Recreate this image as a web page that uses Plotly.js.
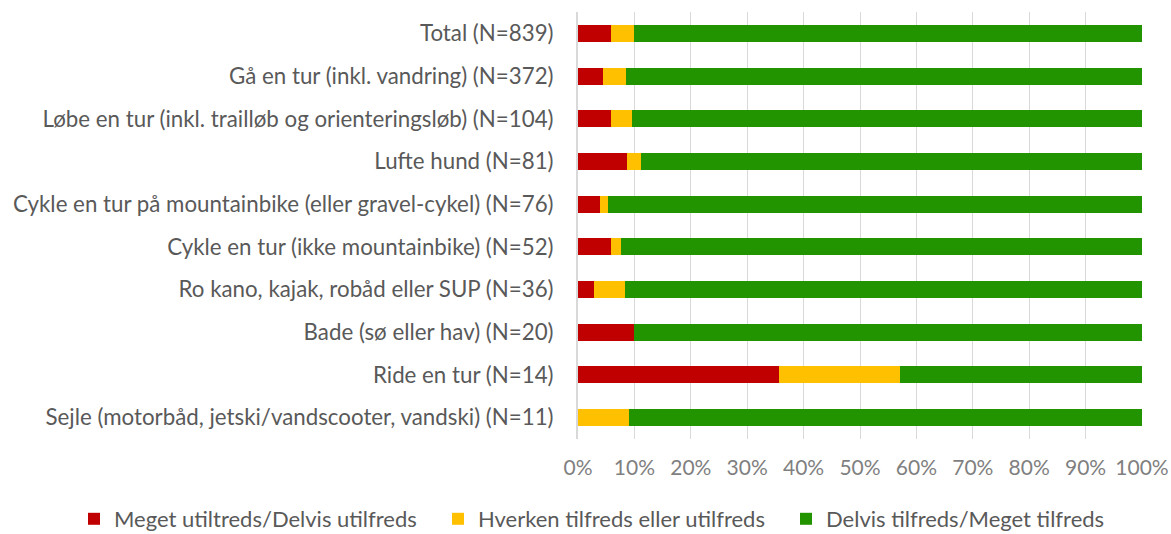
<!DOCTYPE html>
<html><head><meta charset="utf-8">
<script src="https://cdn.plot.ly/plotly-3.0.1.min.js"></script>
<style>body{margin:0;background:#fff}#chart{width:1171px;height:534px}</style>
</head><body><div id="chart"></div>
<script>
const categories = [
  "Total (N=839)",
  "Gå en tur (inkl. vandring) (N=372)",
  "Løbe en tur (inkl. trailløb og orienteringsløb) (N=104)",
  "Lufte hund (N=81)",
  "Cykle en tur på mountainbike (eller gravel-cykel) (N=76)",
  "Cykle en tur (ikke mountainbike) (N=52)",
  "Ro kano, kajak, robåd eller SUP (N=36)",
  "Bade (sø eller hav) (N=20)",
  "Ride en tur (N=14)",
  "Sejle (motorbåd, jetski/vandscooter, vandski) (N=11)"
];
const seriesNames = ["Meget utiltreds/Delvis utilfreds", "Hverken tilfreds eller utilfreds", "Delvis tilfreds/Meget tilfreds"];
const utilfreds = [5.8, 4.4, 5.77, 8.64, 3.95, 5.77, 2.78, 10.0, 35.71, 0];
const hverken   = [4.2, 4.1, 3.85, 2.47, 1.32, 1.92, 5.56, 0, 21.43, 9.09];
const tilfreds  = [90.0, 91.5, 90.38, 88.89, 94.73, 92.31, 91.66, 90.0, 42.86, 90.91];
const colors = ["#C00000", "#FFC000", "#229400"];
const tickVals = [0,10,20,30,40,50,60,70,80,90,100];
const tickText = tickVals.map(v => v + "%");

const legendIds = ["legend", "legend2", "legend3"];
const values = [utilfreds, hverken, tilfreds];
const traces = values.map((vals, i) => ({
  type: "bar",
  orientation: "h",
  name: seriesNames[i],
  legend: legendIds[i],
  y: categories,
  x: vals,
  marker: {color: colors[i], line: {width: 0}},
  hoverinfo: "x+name"
}));

const legendLefts = [74, 438, 786];
function legendAt(px) {
  return {
    orientation: "h", xref: "container", yref: "container",
    x: px / 1171, xanchor: "left", y: 15 / 534, yanchor: "middle",
    font: {size: 22, color: "#595959"}, bgcolor: "rgba(0,0,0,0)"
  };
}

const layout = {
  width: 1171, height: 534,
  margin: {l: 578, r: 29, t: 12, b: 95},
  barmode: "stack",
  bargap: 0.6,
  paper_bgcolor: "#fff", plot_bgcolor: "#fff",
  font: {family: "Lato, 'Open Sans', sans-serif", color: "#595959", size: 22},
  xaxis: {
    range: [0, 100], tickvals: tickVals, ticktext: tickText,
    showgrid: true, gridcolor: "#d9d9d9", gridwidth: 1,
    zeroline: false, showline: false, ticks: "",
    ticklabelstandoff: 14,
    tickfont: {size: 21, color: "#7f7f7f"}, fixedrange: true
  },
  yaxis: {
    type: "category", categoryorder: "array", categoryarray: categories,
    autorange: "reversed",
    showline: true, linecolor: "#d9d9d9", linewidth: 2,
    ticks: "", ticklabelstandoff: 18,
    tickfont: {size: 22.3, color: "#595959"},
    showgrid: false, zeroline: false, fixedrange: true
  },
  showlegend: true,
  legend: legendAt(legendLefts[0]),
  legend2: legendAt(legendLefts[1]),
  legend3: legendAt(legendLefts[2])
};
Plotly.newPlot("chart", traces, layout, {displayModeBar: false, staticPlot: true});
</script></body></html>
